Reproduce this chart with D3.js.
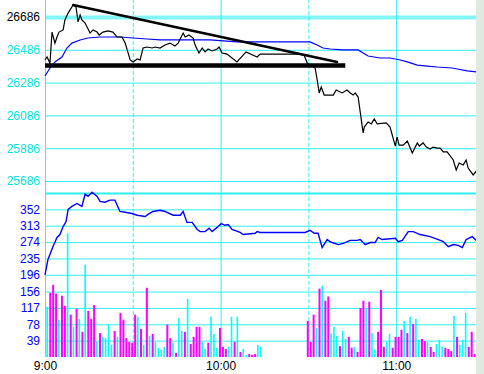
<!DOCTYPE html>
<html>
<head>
<meta charset="utf-8">
<script src="https://cdn.jsdelivr.net/npm/d3@7"></script>
<style>
body { margin: 0; background: #ffffff; }
svg { display: block; }
text { font-family: "Liberation Sans", Arial, sans-serif; font-size: 12px; }
</style>
</head>
<body>
<script>
// all times are minutes after 9:00

// price (black) line
const priceT = [0,0.7,1.7,2.4,3.4,4.1,4.8,6.2,6.8,7.9,
    9.6,10.6,11.3,12,12.6,13.7,15.4,16.4,17.8,18.5,
    19.8,21.5,23.2,24.6,26.3,27.4,29.1,30.1,31.5,32.5,
    33.5,34.9,36.6,37.6,39.3,41,42.7,44.4,45.5,47.2,
    47.9,49.2,50.6,51.3,52.6,53.7,54.7,55.7,57.1,58.8,
    59.5,60.5,62.2,65.6,68.7,72.5,73.5,87.2,88.5,89.6,
    92.3,93,93.7,94.4,95.4,98.5,99.5,101.5,103.2,104.3,
    105.3,106,107,107.7,108.7,109.1,110.4,111.5,112.5,113.5,
    116.6,117.9,119.7,120.3,121,122.4,123.8,125.5,127.2,127.9,
    129.2,130.3,131.6,132.6,134,135,136.1,137.4,139.5,140.5,
    141.5,142.9,143.9,144.6,146.3,147.4];
const priceV = [26424,26442,26405,26594,26527,26564,26594,26607,26668,26710,
    26759,26747,26656,26698,26668,26649,26588,26607,26594,26576,
    26594,26601,26594,26564,26564,26527,26424,26412,26430,26424,
    26497,26503,26497,26503,26497,26515,26527,26509,26527,26588,
    26564,26576,26558,26515,26466,26497,26473,26491,26479,26491,
    26503,26466,26460,26412,26473,26442,26460,26460,26454,26405,
    26375,26302,26223,26259,26210,26210,26241,26223,26241,26223,
    26210,26223,26198,26107,25979,26015,26046,26034,26064,26034,
    26040,26015,25899,25954,25905,25905,25930,25857,25918,25899,
    25918,25893,25881,25893,25887,25887,25863,25863,25814,25753,
    25796,25784,25814,25765,25723,25747];

// average price (blue, upper panel)
const avgT = [0,1.7,3.4,5.8,7.5,9.2,12,14.7,18.8,25.6,
    30.1,34.9,39.3,56.4,65.6,90.6,93,95,97.4,101.9,
    107,108.7,110.4,114.5,117.9,121.4,123.8,127.2,130.6,134,
    139.1,140.9,144.3,147.4];
const avgV = [26326,26375,26412,26442,26497,26527,26546,26558,26564,26564,
    26558,26552,26546,26546,26534,26534,26515,26497,26491,26485,
    26485,26466,26448,26436,26436,26424,26412,26393,26387,26381,
    26375,26369,26357,26351];

// blue line, lower panel
const lowT = [0,1,2.7,4.1,5.1,6.2,7.2,7.9,9.2,10.9,
    12.6,13.7,14.7,16.1,17.8,18.8,20.5,22.2,23.9,25.6,
    27.4,29.7,31.5,34.2,35.2,36.9,39.3,41,43.8,46.2,
    47.2,48.5,50.3,52,53,54.7,56.1,57.1,58.8,60.2,
    61.5,62.6,63.9,66.7,67.7,71.8,72.5,73.5,88.9,90.6,
    92,93.3,94.7,96.4,97.4,98.1,100.2,101.9,104.3,106.7,
    107.7,109.4,111.1,112.8,113.8,115.2,119.7,120.7,122.1,124.1,
    125.8,128.2,131.6,134.4,136.1,137.8,139.5,141.2,142.6,143.9,
    146,147.4];
const lowV = [196,232,263,285,292,311,323,352,359,366,
    359,388,383,393,383,371,369,374,374,347,
    345,342,338,335,340,347,350,347,338,338,
    347,321,321,304,299,299,307,299,309,318,
    314,316,304,297,292,295,299,297,297,302,
    295,295,261,280,275,273,268,271,278,278,
    280,268,273,273,285,280,283,275,278,299,
    299,292,287,280,275,263,268,266,261,280,
    287,278];

// volume bars, 9:01 - 10:14 and 10:30 - 11:27 (1 = magenta, 0 = cyan)
const volStartA = 1;
const volA = [120,153,172,151,89,146,122,295,101,72,
    115,91,60,220,110,91,124,36,57,48,
    45,77,29,62,48,105,89,45,36,34,
    101,96,67,29,165,50,55,36,22,
    17,24,77,45,34,10,93,62,60,139,
    31,48,72,72,36,19,34,96,55,22,
    69,24,19,24,96,36,96,12,19,5,
    7,5,7,29,24];
const upA = [0,1,1,1,0,1,1,0,1,0,
    1,0,1,0,1,1,1,0,1,0,
    0,0,0,1,0,1,1,1,1,1,
    1,0,1,0,1,0,1,0,0,
    0,0,1,1,0,1,0,0,1,0,
    1,1,1,1,0,0,1,0,0,0,
    1,1,1,0,0,1,0,1,0,0,
    1,1,1,0,0];
const volStartB = 90;
const volB = [86,36,101,69,163,170,134,144,
    57,72,50,26,62,43,48,22,24,12,
    117,134,115,132,57,17,60,160,24,36,
    55,22,48,48,65,86,57,96,79,91,
    41,43,38,36,24,12,31,41,24,22,
    19,14,98,48,29,41,105,24,60,7];
const upB = [1,1,1,0,1,0,1,1,
    0,0,0,1,0,0,1,1,0,1,
    1,1,0,1,0,0,1,1,1,0,
    0,1,1,1,1,0,1,0,1,0,
    0,1,1,0,1,1,0,0,0,1,
    1,1,0,1,0,0,0,1,1,1];

// hand drawn lines [minute, price]
const trendLine = [[9.6, 26759], [99.8, 26412]];
const supportLine = [[0, 26390], [102.6, 26390]];

const priceTicks = [26686, 26486, 26286, 26086, 25886, 25686];
const lowerTicks = [39, 78, 117, 156, 196, 235, 274, 313, 352, 391];
const timeTicks = [0, 30, 60, 90, 120];
const timeLabels = {0: "9:00", 60: "10:00", 120: "11:00"};

const width = 484, height = 374;
const plotLeft = 45, plotRight = 476;
const gridColor = "#2ff0f0";

const svg = d3.select("body")
  .append("svg")
    .attr("width", width)
    .attr("height", height);

const xScale = d3.scaleLinear()
    .domain([0, 150])
    .range([plotLeft, 484]);

const priceScale = d3.scaleLinear()
    .domain([25686, 26686])
    .range([181, 17]);

const lowScale = d3.scaleLinear()
    .domain([0, 391])
    .range([357, 193]);

// vertical time grid + labels
const xAxis = svg.append("g")
    .attr("transform", "translate(0," + lowScale(0) + ")")
    .call(d3.axisBottom(xScale)
        .tickValues(timeTicks)
        .tickSize(-lowScale(0))
        .tickPadding(4)
        .tickFormat(d => timeLabels[d] || ""));
xAxis.select(".domain").remove();
xAxis.selectAll(".tick line")
    .attr("stroke", gridColor)
    .attr("stroke-dasharray", d => (d % 60 == 30) ? "4,2" : null);
xAxis.selectAll(".tick text").attr("fill", "#000");

// upper panel grid
const pAxis = svg.append("g")
    .attr("transform", "translate(" + plotLeft + ",0)")
    .call(d3.axisLeft(priceScale)
        .tickValues(priceTicks)
        .tickSize(-(plotRight - plotLeft))
        .tickPadding(5)
        .tickFormat(d3.format("d")));
pAxis.select(".domain").remove();
pAxis.selectAll(".tick line")
    .attr("stroke", gridColor)
    .attr("stroke-width", (d, i) => i == 0 ? 4 : 1)
    .attr("stroke-opacity", (d, i) => i == 0 ? 0.6 : 1);
pAxis.selectAll(".tick text")
    .attr("fill", (d, i) => i == 0 ? "#000" : "#00e4e4");

// lower panel grid
const lAxis = svg.append("g")
    .attr("transform", "translate(" + plotLeft + ",0)")
    .call(d3.axisLeft(lowScale)
        .tickValues(lowerTicks)
        .tickSize(-(plotRight - plotLeft))
        .tickPadding(5)
        .tickFormat(d => d == 391 ? "" : d));
lAxis.select(".domain").remove();
lAxis.selectAll(".tick line")
    .attr("stroke", gridColor)
    .attr("stroke-width", d => d == 391 ? 2 : 1);
lAxis.selectAll(".tick text").attr("fill", "#0000ff");

// volume bars
let bars = [];
volA.forEach((v, i) => bars.push({m: volStartA + i, v: v, up: upA[i]}));
volB.forEach((v, i) => bars.push({m: volStartB + i, v: v, up: upB[i]}));

svg.selectAll("rect.vol")
    .data(bars)
    .enter()
    .append("rect")
    .attr("class", "vol")
    .attr("x", d => xScale(d.m) - 1.6)
    .attr("width", d => d.up ? 2 : 1.6)
    .attr("y", d => lowScale(d.v))
    .attr("height", d => lowScale(0) - lowScale(d.v))
    .style("fill", d => d.up ? "#ff00ff" : "#00ffff");

function series(ts, vs) {
    return ts.map((t, i) => [t, vs[i]]);
}

const priceLine = d3.line()
    .x(d => xScale(d[0]))
    .y(d => priceScale(d[1]));

const lowLine = d3.line()
    .x(d => xScale(d[0]))
    .y(d => lowScale(d[1]));

svg.append("path")
    .datum(series(avgT, avgV))
    .attr("d", priceLine)
    .attr("fill", "none")
    .attr("stroke", "#0000ff")
    .attr("stroke-width", 1.2);

svg.append("path")
    .datum(series(lowT, lowV))
    .attr("d", lowLine)
    .attr("fill", "none")
    .attr("stroke", "#0000ff")
    .attr("stroke-width", 1.4);

svg.append("path")
    .datum(series(priceT, priceV))
    .attr("d", priceLine)
    .attr("fill", "none")
    .attr("stroke", "#000")
    .attr("stroke-width", 1.2);

svg.append("path")
    .datum(supportLine)
    .attr("d", priceLine)
    .attr("stroke", "#000")
    .attr("stroke-width", 4.5);

svg.append("path")
    .datum(trendLine)
    .attr("d", priceLine)
    .attr("stroke", "#000")
    .attr("stroke-width", 2.5)
    .attr("stroke-linecap", "round");

// right border strip
svg.append("rect")
    .attr("x", plotRight)
    .attr("y", 0)
    .attr("width", width - plotRight)
    .attr("height", height)
    .style("fill", "#e0e9e0");
</script>
</body>
</html>
